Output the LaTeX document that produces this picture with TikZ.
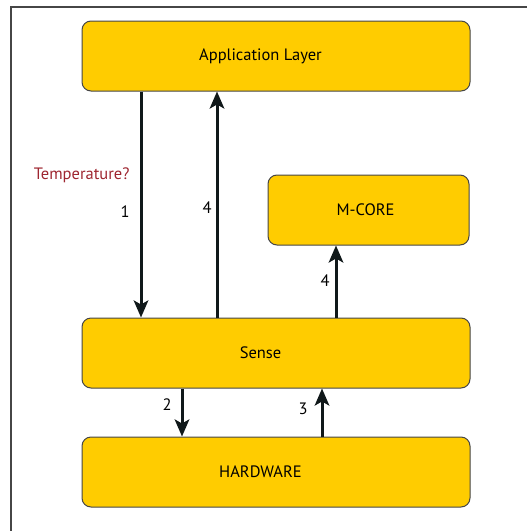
\documentclass[tikz,border=0pt]{standalone}
\usepackage{fontspec}
\setmainfont{PT Sans}
\usepackage{tikz}
\usetikzlibrary{arrows.meta,positioning}

\definecolor{layerfill}{RGB}{255,204,0}
\definecolor{layerline}{RGB}{70,70,70}
\definecolor{askred}{RGB}{158,38,48}
\definecolor{flowline}{RGB}{16,24,26}

\begin{document}
\begin{tikzpicture}[x=1pt, y=-1pt,
    layer/.style={draw=layerline, line width=1pt, fill=layerfill, rounded corners=9pt,
      minimum height=70pt, font=\fontsize{16.5}{18}\selectfont, inner sep=0pt},
    flow/.style={flowline, line width=3pt,
      -{Stealth[length=17pt, width=14.5pt, inset=4pt]}},
    num/.style={font=\fontsize{16.5}{18}\selectfont, inner sep=0pt, text=black}]

  \useasboundingbox (0,0) rectangle (527,531) ;

  \draw [layerline, line width=1.3pt] (527,7) -- (11,7) -- (11,531) ;

  \node (app) [layer, minimum width=388pt] at (276,56) {\hspace*{-31pt}Application Layer} ;

  \node (mcore) [layer, minimum width=201pt] at (368.5,210) {\hspace*{-6pt}M-CORE} ;

  \node (sense) [layer, minimum width=388pt] at (276,353) {\hspace*{-31pt}Sense} ;

  \node (hw) [layer, minimum width=388pt] at (276,472) {\hspace*{-31pt}HARDWARE} ;

  \path [flow] ([xshift=-135pt]app.south) edge
    node [num, pos=0.37, left=10pt, text=askred] {Temperature?}
    node [num, pos=0.53, left=10pt] {1} ([xshift=-135pt]sense.north) ;

  \path [flow] ([xshift=-59pt]sense.north) edge
    node [num, pos=0.485, left=4pt] {4} ([xshift=-59pt]app.south) ;

  \path [flow] ([xshift=60pt]sense.north) edge
    node [num, pos=0.51, left=5pt] {4} ([xshift=-32.5pt]mcore.south) ;

  \path [flow] ([xshift=-94pt]sense.south) edge
    node [num, pos=0.33, left=9pt] {2} ([xshift=-94pt]hw.north) ;

  \path [flow] ([xshift=46pt]hw.north) edge
    node [num, pos=0.57, left=13pt] {3} ([xshift=46pt]sense.south) ;

\end{tikzpicture}
\end{document}
